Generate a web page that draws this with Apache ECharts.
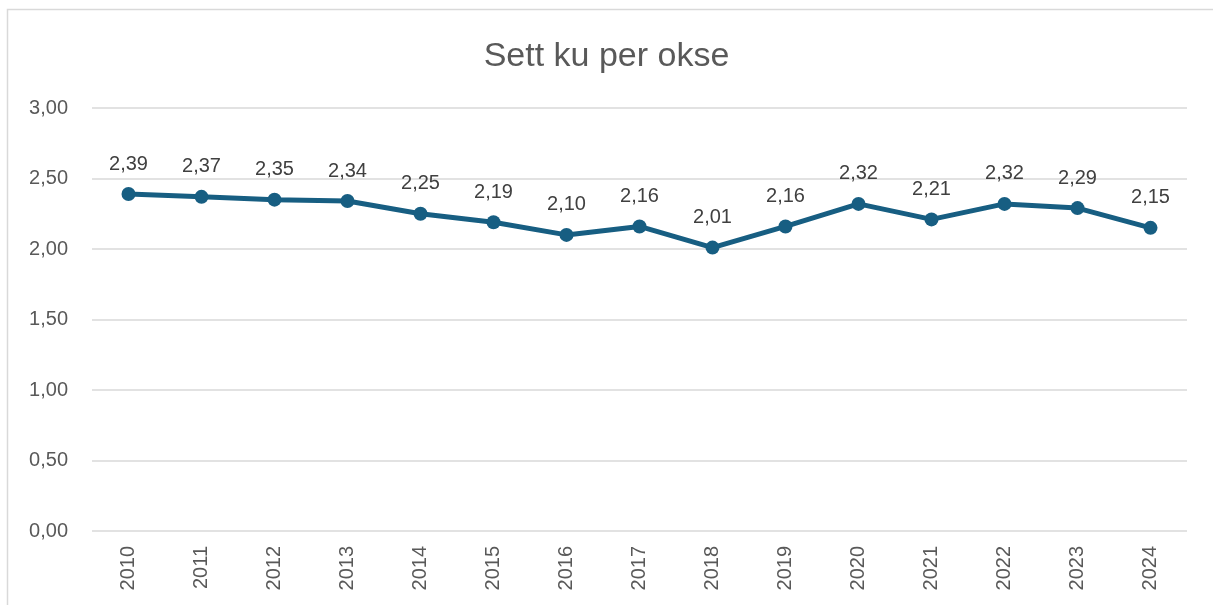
<!DOCTYPE html>
<html>
<head>
<meta charset="utf-8">
<script src="https://cdn.jsdelivr.net/npm/echarts@6/dist/echarts.min.js"></script>
<style>
  html, body { margin: 0; padding: 0; background: #fff; }
  #chartContainer { width: 1213px; height: 605px; }
</style>
</head>
<body>
<div id="chartContainer"></div>
<script>
var years = ['2010', '2011', '2012', '2013', '2014', '2015', '2016', '2017', '2018', '2019', '2020', '2021', '2022', '2023', '2024'];
var cowsPerBull = [2.39, 2.37, 2.35, 2.34, 2.25, 2.19, 2.10, 2.16, 2.01, 2.16, 2.32, 2.21, 2.32, 2.29, 2.15];
var yTicks = [0, 0.5, 1, 1.5, 2, 2.5, 3];

function comma(v) {
    return Number(v).toFixed(2).replace('.', ',');
}

var chart = echarts.init(document.getElementById('chartContainer'));

chart.setOption({
    animation: false,
    textStyle: { fontFamily: 'Liberation Sans, Arial, sans-serif' },
    graphic: [{
        type: 'rect',
        shape: { x: 7.5, y: 9.5, width: 1220, height: 620 },
        style: { fill: 'none', stroke: '#d9d9d9', lineWidth: 1.5 },
        silent: true
    }],
    title: {
        text: 'Sett ku per okse',
        left: 'center',
        top: 35,
        textStyle: { fontSize: 34, fontWeight: 'normal', color: '#595959' }
    },
    grid: { left: 92, right: 26, top: 108, bottom: 74 },
    xAxis: {
        type: 'category',
        data: years,
        boundaryGap: true,
        axisLine: { show: false },
        axisTick: { show: false },
        axisLabel: {
            rotate: 90,
            margin: 15,
            fontSize: 20,
            color: '#595959'
        }
    },
    yAxis: {
        type: 'value',
        min: yTicks[0],
        max: yTicks[yTicks.length - 1],
        interval: 0.5,
        axisLine: { show: false },
        axisTick: { show: false },
        splitLine: { lineStyle: { color: '#d9d9d9', width: 1.5 } },
        axisLabel: {
            margin: 24,
            fontSize: 20,
            color: '#595959',
            formatter: comma
        }
    },
    series: [{
        type: 'line',
        data: cowsPerBull,
        symbol: 'circle',
        symbolSize: 14,
        lineStyle: { color: '#175e82', width: 5 },
        itemStyle: { color: '#175e82' },
        label: {
            show: true,
            position: 'top',
            distance: 13,
            fontSize: 20,
            color: '#404040',
            formatter: function (p) { return comma(p.value); }
        }
    }]
});
</script>
</body>
</html>
